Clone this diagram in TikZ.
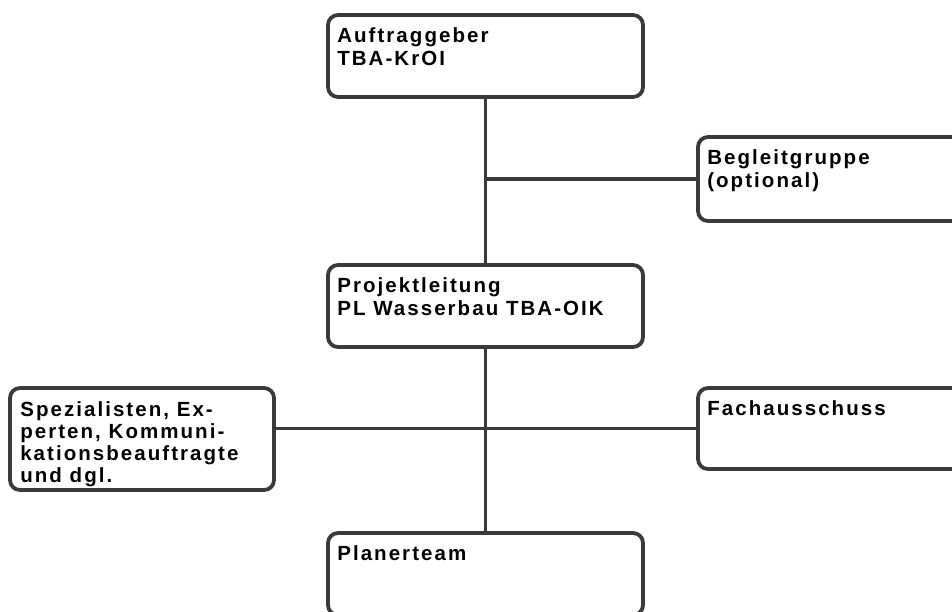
\documentclass[tikz,border=0pt]{standalone}
\usepackage{fontspec}
\setmainfont{Liberation Sans}[LetterSpace=10]
\usepackage{tikz}

\definecolor{linegray}{HTML}{3A3A3A}

\begin{document}
\begin{tikzpicture}[x=1pt,y=-1pt,
    orgbox/.style={draw=linegray,line width=3.8pt,rounded corners=10pt,fill=white,
      inner sep=0pt,minimum width=315pt,minimum height=82pt},
    orgtext/.style={anchor=north west,inner sep=0pt,align=left,
      font=\fontsize{20.5}{23}\selectfont\bfseries,text=black},
    conn/.style={draw=linegray,line width=3.6pt}]
  \useasboundingbox (0,0) rectangle (952,611);
  \clip (0,0) rectangle (952,611);

  \node[orgbox] (auftrag) at (485.5,56) {};
  \node[orgbox,minimum width=290pt,minimum height=84pt] (begleit) at (843,179) {};
  \node[orgbox] (projekt) at (485.5,306) {};
  \node[orgbox,minimum width=264pt,minimum height=102pt] (spezial) at (142,439) {};
  \node[orgbox,minimum width=290pt,minimum height=81pt] (fach) at (843,428.5) {};
  \node[orgbox] (planer) at (485.5,574) {};

  \node[orgtext] (t-auftrag) at ([shift={(11,14)}]auftrag.north west) {Auftraggeber\\TBA-KrOI};
  \node[orgtext] (t-begleit) at ([shift={(11,14)}]begleit.north west) {Begleitgruppe\\(optional)};
  \node[orgtext] (t-projekt) at ([shift={(11,14)}]projekt.north west) {Projektleitung\\PL Wasserbau TBA-OIK};
  \node[orgtext,font=\fontsize{20.5}{22}\selectfont\bfseries] (t-spezial) at ([shift={(12,15)}]spezial.north west) {Spezialisten, Ex-\\perten, Kommuni-\\kationsbeauftragte\\und dgl.};
  \node[orgtext] (t-fach) at ([shift={(11,14)}]fach.north west) {Fachausschuss};
  \node[orgtext] (t-planer) at ([shift={(11,14)}]planer.north west) {Planerteam};

  \coordinate (j1) at (auftrag.south |- begleit.west);
  \coordinate (j2) at (projekt.south |- fach.west);

  \draw[conn] (auftrag.south) -- (projekt.north);
  \draw[conn] (j1) -- (begleit.west);
  \draw[conn] (projekt.south) -- (planer.north);
  \draw[conn] (spezial.east |- j2) -- (fach.west);
\end{tikzpicture}
\end{document}
